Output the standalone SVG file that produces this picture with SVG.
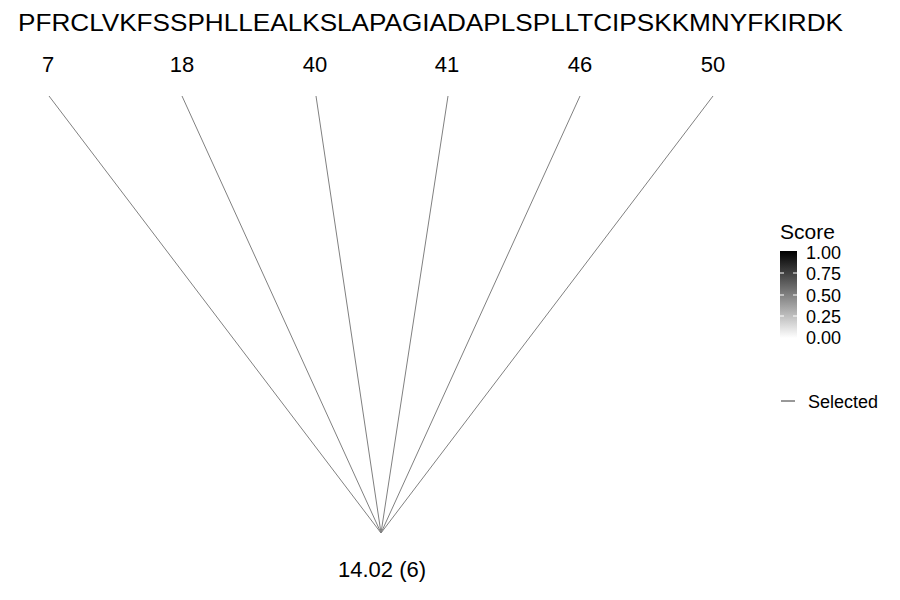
<svg xmlns="http://www.w3.org/2000/svg" width="900" height="600" viewBox="0 0 900 600">
<defs>
<linearGradient id="g" x1="0" y1="1" x2="0" y2="0">
<stop offset="0" stop-color="#ffffff"/>
<stop offset="1" stop-color="#000000"/>
</linearGradient>
<style>
text{font-family:"Liberation Sans",Arial,sans-serif;fill:#000}
.edge{stroke:#808080;stroke-width:1;fill:none}
.lab{font-size:22px;text-anchor:middle}
.tick{font-size:18px}
</style>
</defs>
<rect width="900" height="600" fill="#fff"/>
<text id="seq" x="18" y="31" font-size="24" textLength="825" lengthAdjust="spacingAndGlyphs">PFRCLVKFSSPHLLEALKSLAPAGIADAPLSPLLTCIPSKKMNYFKIRDK</text>
<g id="connectors">
<line class="edge" x1="49" y1="96" x2="381" y2="533"/>
<line class="edge" x1="182" y1="96" x2="381" y2="533"/>
<line class="edge" x1="316" y1="96" x2="381" y2="533"/>
<line class="edge" x1="448" y1="96" x2="381" y2="533"/>
<line class="edge" x1="580" y1="96" x2="381" y2="533"/>
<line class="edge" x1="713" y1="96" x2="381" y2="533"/>
</g>
<g id="n7"><text class="lab" x="48" y="72">7</text></g>
<g id="n18"><text class="lab" x="182" y="72">18</text></g>
<g id="n40"><text class="lab" x="315" y="72">40</text></g>
<g id="n41"><text class="lab" x="447" y="72">41</text></g>
<g id="n46"><text class="lab" x="580" y="72">46</text></g>
<g id="n50"><text class="lab" x="713" y="72">50</text></g>
<g id="root"><text class="lab" x="382" y="577">14.02 (6)</text></g>
<g id="legend">
<text x="780" y="239" font-size="21">Score</text>
<rect x="780" y="251" width="17" height="87" fill="url(#g)"/>
<g stroke="#fff" stroke-width="1">
<line x1="780" y1="273" x2="784" y2="273"/><line x1="793" y1="273" x2="797" y2="273"/>
<line x1="780" y1="295" x2="784" y2="295"/><line x1="793" y1="295" x2="797" y2="295"/>
<line x1="780" y1="316" x2="784" y2="316"/><line x1="793" y1="316" x2="797" y2="316"/>
</g>
<text class="tick" x="806" y="259">1.00</text>
<text class="tick" x="806" y="280">0.75</text>
<text class="tick" x="806" y="302">0.50</text>
<text class="tick" x="806" y="323">0.25</text>
<text class="tick" x="806" y="344">0.00</text>
<line x1="781" y1="401" x2="795" y2="401" stroke="#333" stroke-width="1"/>
<text class="tick" x="808" y="408">Selected</text>
</g>
</svg>
